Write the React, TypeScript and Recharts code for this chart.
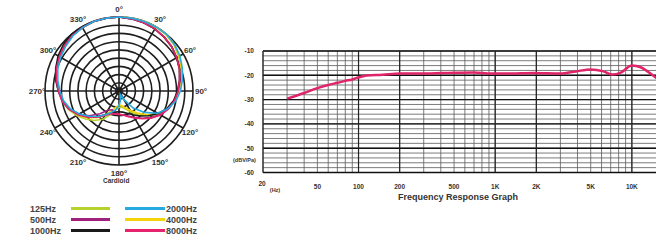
import {
  LineChart,
  Line,
  XAxis,
  YAxis,
  CartesianGrid,
  ReferenceLine,
  RadarChart,
  Radar,
  PolarGrid,
  PolarAngleAxis,
  PolarRadiusAxis,
} from "recharts";

// polar pattern, normalized radius (outer ring = 1)
const ANGLES = [0, 10, 20, 30, 40, 50, 60, 70, 80, 90, 100, 110, 120, 130, 140, 150, 160, 170,
  180, 190, 200, 210, 220, 230, 240, 250, 260, 270, 280, 290, 300, 310, 320, 330, 340, 350];

const R_125 = [1, 1, 1, 1, 0.99, 0.97, 0.93, 0.89, 0.85, 0.81, 0.76, 0.7, 0.62, 0.52, 0.42, 0.33, 0.26, 0.22,
  0.22, 0.26, 0.34, 0.44, 0.52, 0.59, 0.66, 0.73, 0.78, 0.81, 0.85, 0.89, 0.93, 0.96, 0.98, 0.99, 1, 1];
const R_500 = [1, 0.99, 0.98, 0.97, 0.95, 0.93, 0.9, 0.87, 0.84, 0.8, 0.76, 0.71, 0.64, 0.56, 0.48, 0.41, 0.36, 0.33,
  0.32, 0.3, 0.27, 0.3, 0.4, 0.52, 0.63, 0.72, 0.78, 0.82, 0.86, 0.9, 0.93, 0.96, 0.98, 0.99, 1, 1];
const R_1000 = [1, 0.99, 0.98, 0.97, 0.95, 0.93, 0.9, 0.87, 0.83, 0.79, 0.75, 0.69, 0.61, 0.52, 0.44, 0.37, 0.32, 0.29,
  0.28, 0.29, 0.32, 0.37, 0.45, 0.54, 0.63, 0.71, 0.77, 0.82, 0.87, 0.91, 0.95, 0.98, 1, 1, 1, 1];
const R_2000 = [1, 1, 1, 1, 1, 0.98, 0.95, 0.91, 0.87, 0.83, 0.78, 0.7, 0.6, 0.45, 0.3, 0.14, 0.05, 0.12,
  0.2, 0.26, 0.31, 0.37, 0.45, 0.53, 0.62, 0.7, 0.76, 0.8, 0.84, 0.88, 0.91, 0.94, 0.97, 0.99, 1, 1];
const R_4000 = [1, 1, 1, 1, 1, 0.98, 0.94, 0.9, 0.86, 0.82, 0.77, 0.7, 0.61, 0.5, 0.39, 0.3, 0.24, 0.2,
  0.19, 0.22, 0.28, 0.37, 0.47, 0.56, 0.64, 0.71, 0.77, 0.81, 0.85, 0.89, 0.92, 0.95, 0.98, 0.99, 1, 1];
const R_8000 = [1, 0.99, 0.98, 0.97, 0.95, 0.93, 0.9, 0.87, 0.83, 0.8, 0.76, 0.71, 0.65, 0.57, 0.49, 0.42, 0.37, 0.33,
  0.31, 0.31, 0.33, 0.38, 0.46, 0.55, 0.64, 0.72, 0.78, 0.82, 0.86, 0.9, 0.93, 0.96, 0.98, 0.99, 1, 1];

const POLAR_SERIES = [
  { key: "f125", label: "125Hz", color: "#b9d12c", values: R_125 },
  { key: "f500", label: "500Hz", color: "#a0217c", values: R_500 },
  { key: "f1000", label: "1000Hz", color: "#1a1a1a", values: R_1000 },
  { key: "f2000", label: "2000Hz", color: "#27a9e1", values: R_2000 },
  { key: "f4000", label: "4000Hz", color: "#f4d20c", values: R_4000 },
  { key: "f8000", label: "8000Hz", color: "#e5246d", values: R_8000 },
];
const DRAW_ORDER = ["f125", "f4000", "f500", "f1000", "f8000", "f2000"];

// frequency response (8000Hz-ish curve), dBV/Pa
const FREQS = [30, 40, 50, 60, 70, 80, 90, 100, 115, 150, 200, 300, 500, 700, 930, 1300, 1900,
  3000, 3900, 5000, 6200, 7200, 8300, 10000, 11600, 14200, 15500];
const RESPONSE = [-29.6, -27.3, -25.3, -24, -23.1, -22.3, -21.7, -20.9, -20.1, -19.8, -19.3, -19.3, -18.9,
  -18.8, -19.3, -19.3, -19.1, -19.3, -18.4, -17.6, -18.4, -19.7, -18.9, -16, -16.7, -20, -21.5];

const X_TICKS = [20, 50, 100, 200, 500, 1000, 2000, 5000, 10000];
const X_TICK_LABELS = ["20", "50", "100", "200", "500", "1K", "2K", "5K", "10K"];
const Y_TICKS = [-60, -50, -40, -30, -20, -10];
const GRID_FREQS = [20, 30, 40, 50, 60, 70, 80, 90, 100, 200, 300, 400, 500, 600, 700, 800, 900,
  1000, 2000, 3000, 4000, 5000, 6000, 7000, 8000, 9000, 10000, 20000];
const MAJOR_FREQS = [20, 100, 200, 1000, 2000, 10000];
const GRID_DB = [-60, -58, -56, -54, -52, -50, -48, -46, -44, -42, -40, -38, -36, -34, -32, -30,
  -28, -26, -24, -22, -20, -18, -16, -14, -12, -10];

const FONT = "'Liberation Sans', Arial, sans-serif";
const CX = 119;
const CY = 91;

const polarData = ANGLES.map((a, i) => {
  const row: Record<string, number> = { angle: a };
  POLAR_SERIES.forEach(s => { row[s.key] = s.values[i]; });
  return row;
});

const responseData = FREQS.map((f, i) => ({ freq: f, db: RESPONSE[i] }));

function AngleTick(props: any) {
  const { payload } = props;
  if (payload.value % 30 !== 0) return <g />;
  const rad = (payload.coordinate * Math.PI) / 180;
  const r = 82;
  const x = CX + r * Math.cos(rad);
  const y = CY - r * Math.sin(rad);
  return (
    <text x={x} y={y} textAnchor="middle" dominantBaseline="central"
      fontSize={8} fontWeight="bold" fill="#333" fontFamily={FONT}>
      {payload.value}°
    </text>
  );
}

function FreqTick(props: any) {
  const { x, y, payload } = props;
  const idx = X_TICKS.indexOf(payload.value);
  const label = X_TICK_LABELS[idx] ?? String(payload.value);
  if (payload.value === 20) {
    return (
      <g>
        <text x={x - 1} y={y + 5} textAnchor="middle" fontSize={6.5} fontWeight="bold" fill="#333" fontFamily={FONT}>{label}</text>
        <text x={x + 12} y={y + 11} textAnchor="middle" fontSize={5.5} fontWeight="bold" fill="#333" fontFamily={FONT}>(Hz)</text>
      </g>
    );
  }
  return (
    <text x={x} y={y + 8} textAnchor="middle" fontSize={6.5} fontWeight="bold" fill="#333" fontFamily={FONT}>
      {label}
    </text>
  );
}

export default function App() {
  return (
    <div style={{ position: "absolute", left: 0, top: 0, width: 656, height: 244, overflow: "hidden", background: "#fff", fontFamily: FONT }}>
      <div style={{ position: "absolute", left: 0, top: 0 }}>
        <RadarChart width={240} height={190} cx={CX} cy={CY} outerRadius={74} data={polarData}
          startAngle={90} endAngle={-270} margin={{ top: 0, right: 0, bottom: 0, left: 0 }}>
          <PolarGrid gridType="circle" stroke="#1e1e1e" strokeWidth={1.6}
            polarRadius={[3, 8.2, 16.4, 24.6, 32.9, 41.1, 49.3, 57.6, 65.8, 74]}
            polarAngles={[0, 30, 60, 90, 120, 150, 180, 210, 240, 270, 300, 330]} />
          <PolarAngleAxis dataKey="angle" tick={AngleTick} tickLine={false} axisLine={false} />
          <PolarRadiusAxis domain={[0, 1]} tick={false} axisLine={false} />
          {DRAW_ORDER.map(k => {
            const s = POLAR_SERIES.find(p => p.key === k)!;
            return (
              <Radar key={k} dataKey={k} stroke={s.color} strokeWidth={1.6} fill="none"
                fillOpacity={0} dot={false} isAnimationActive={false} />
            );
          })}
        </RadarChart>
      </div>
      <div style={{ position: "absolute", left: 103, top: 177, fontSize: 6.5, fontWeight: "bold", color: "#333" }}>Cardioid</div>

      {POLAR_SERIES.map((s, i) => {
        const col = i < 3 ? 0 : 1;
        const row = i % 3;
        const top = 203 + row * 11;
        return col === 0 ? (
          <div key={s.key} style={{ position: "absolute", left: 30, top, height: 11, display: "flex", alignItems: "center" }}>
            <span style={{ width: 41, fontSize: 9, fontWeight: "bold", color: "#444" }}>{s.label}</span>
            <span style={{ width: 39, height: 3, background: s.color }} />
          </div>
        ) : (
          <div key={s.key} style={{ position: "absolute", left: 125, top, height: 11, display: "flex", alignItems: "center" }}>
            <span style={{ width: 40, height: 3, background: s.color }} />
            <span style={{ fontSize: 9, fontWeight: "bold", color: "#444", marginLeft: 1 }}>{s.label}</span>
          </div>
        );
      })}

      <div style={{ position: "absolute", left: 0, top: 0 }}>
        <LineChart width={683} height={244} data={responseData}
          margin={{ top: 51, right: 10, bottom: 51.5, left: 233 }}>
          <CartesianGrid stroke="#5a5a5a" strokeWidth={0.8}
            horizontalValues={GRID_DB} verticalValues={GRID_FREQS} />
          {Y_TICKS.map(v => (
            <ReferenceLine key={`y${v}`} y={v} stroke="#111" strokeWidth={1.4} />
          ))}
          {MAJOR_FREQS.map(v => (
            <ReferenceLine key={`x${v}`} x={v} stroke="#222" strokeWidth={1.2} />
          ))}
          <XAxis dataKey="freq" type="number" scale="log" domain={[20, 20000]} ticks={X_TICKS}
            allowDataOverflow height={20} axisLine={false} tickLine={false} tick={FreqTick} interval={0} />
          <YAxis type="number" domain={[-60, -10]} ticks={Y_TICKS} width={30} axisLine={false}
            tickLine={false} tickMargin={3} interval={0}
            tick={{ fontSize: 6.5, fontWeight: "bold", fill: "#333", fontFamily: FONT }} />
          <Line dataKey="db" type="monotone" stroke="#e0246a" strokeWidth={2.5} dot={false} isAnimationActive={false} />
        </LineChart>
      </div>
      <div style={{ position: "absolute", left: 233, top: 157, fontSize: 5.5, fontWeight: "bold", color: "#333" }}>(dBV/Pa)</div>
      <div style={{ position: "absolute", left: 398, top: 192, fontSize: 9, fontWeight: "bold", color: "#333", whiteSpace: "nowrap" }}>
        Frequency Response Graph
      </div>
    </div>
  );
}
